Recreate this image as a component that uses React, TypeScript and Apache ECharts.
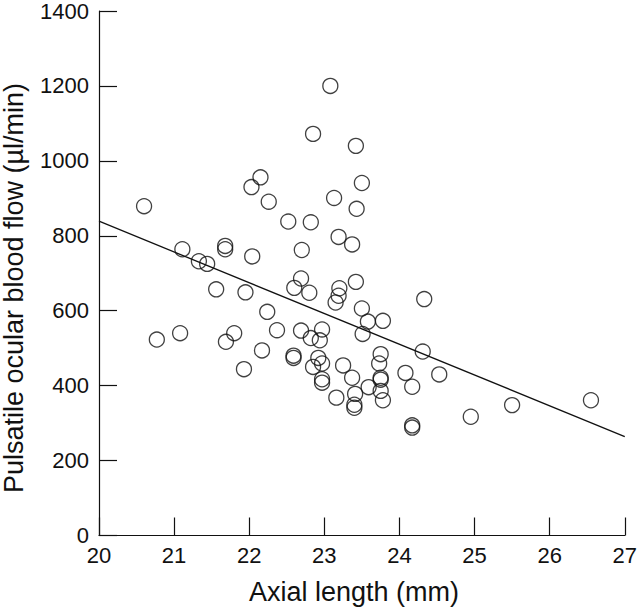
import React, { useEffect, useRef } from "react";
import * as echarts from "echarts";

const axialLength = [
  20.6, 20.77, 21.08, 21.11, 21.33, 21.44, 21.56, 21.68, 21.68, 21.69,
  21.8, 21.93, 21.95, 22.03, 22.04, 22.15, 22.17, 22.24, 22.26, 22.37,
  22.52, 22.6, 22.59, 22.59, 22.69, 22.69, 22.7, 22.8, 22.82, 22.82,
  22.85, 22.85, 22.92, 22.94, 22.97, 22.97, 22.97, 22.97, 23.08, 23.13,
  23.15, 23.16, 23.19, 23.2, 23.19, 23.25, 23.37, 23.37, 23.4, 23.4,
  23.42, 23.41, 23.42, 23.43, 23.5, 23.5, 23.51, 23.58, 23.59, 23.73,
  23.75, 23.75, 23.75, 23.75, 23.78, 23.78, 24.08, 24.17, 24.17, 24.17,
  24.31, 24.33, 24.53, 24.95, 25.5, 26.55,
];
const bloodFlow = [
  879, 523, 540, 764, 732, 725, 657, 773, 764, 517,
  540, 444, 649, 930, 745, 956, 494, 597, 891, 548,
  838, 661, 480, 474, 686, 547, 762, 648, 836, 527,
  1072, 450, 474, 521, 550, 459, 417, 408, 1200, 901,
  622, 368, 797, 660, 640, 454, 777, 421, 349, 341,
  677, 378, 1040, 872, 941, 606, 538, 571, 396, 459,
  386, 484, 421, 416, 573, 361, 434, 397, 294, 288,
  491, 631, 430, 317, 348, 361,
];
const fitX = [20, 27];
const fitY = [839, 264];
const xTicks = { min: 20, max: 27, interval: 1 };
const yTicks = { min: 0, max: 1400, interval: 200 };
const xTitle = "Axial length (mm)";
const yTitle = "Pulsatile ocular blood flow (µl/min)";

const FONT = "'Liberation Sans', Arial, Helvetica, sans-serif";
const INK = "#111";

export default function App() {
  const ref = useRef<HTMLDivElement>(null);
  useEffect(() => {
    if (!ref.current) return;
    const chart = echarts.init(ref.current, undefined, { renderer: "svg" });
    const scatterData = axialLength.map((x, i) => [x, bloodFlow[i]]);
    const lineData = fitX.map((x, i) => [x, fitY[i]]);
    const axisCommon = {
      type: "value" as const,
      splitLine: { show: false },
      axisLine: { show: true, lineStyle: { color: INK, width: 1.2 } },
      axisTick: { show: true, inside: true, length: 18, lineStyle: { color: INK, width: 1.2 } },
    };
    chart.setOption({
      animation: false,
      backgroundColor: "#fff",
      grid: { left: 99, right: 13, top: 8, bottom: 71.5, containLabel: false },
      xAxis: {
        ...axisCommon,
        min: xTicks.min,
        max: xTicks.max,
        interval: xTicks.interval,
        axisLabel: {
          color: INK,
          fontSize: 22,
          fontFamily: FONT,
          margin: 9,
          formatter: (v: number) => String(v),
        },
      },
      yAxis: {
        ...axisCommon,
        min: yTicks.min,
        max: yTicks.max,
        interval: yTicks.interval,
        axisLabel: {
          color: INK,
          fontSize: 22,
          fontFamily: FONT,
          margin: 10,
          formatter: (v: number) => String(v),
        },
      },
      series: [
        {
          type: "scatter",
          data: scatterData,
          symbol: "circle",
          symbolSize: 15,
          itemStyle: { color: "rgba(0,0,0,0)", borderColor: INK, borderWidth: 1.3 },
          z: 3,
        },
        {
          type: "line",
          data: lineData,
          showSymbol: false,
          symbol: "none",
          lineStyle: { color: INK, width: 1.3 },
          z: 2,
        },
      ],
      graphic: [
        {
          type: "text",
          x: 354,
          y: 592,
          style: {
            text: xTitle,
            fill: INK,
            font: `27px ${FONT}`,
            textAlign: "center",
            textVerticalAlign: "middle",
          },
        },
        {
          type: "text",
          x: 14,
          y: 288,
          rotation: Math.PI / 2,
          style: {
            text: yTitle,
            fill: INK,
            font: `27px ${FONT}`,
            textAlign: "center",
            textVerticalAlign: "middle",
          },
        },
      ],
    });
    return () => chart.dispose();
  }, []);
  return (
    <div
      ref={ref}
      style={{ position: "absolute", left: 0, top: 0, width: 640, height: 607 }}
    />
  );
}
